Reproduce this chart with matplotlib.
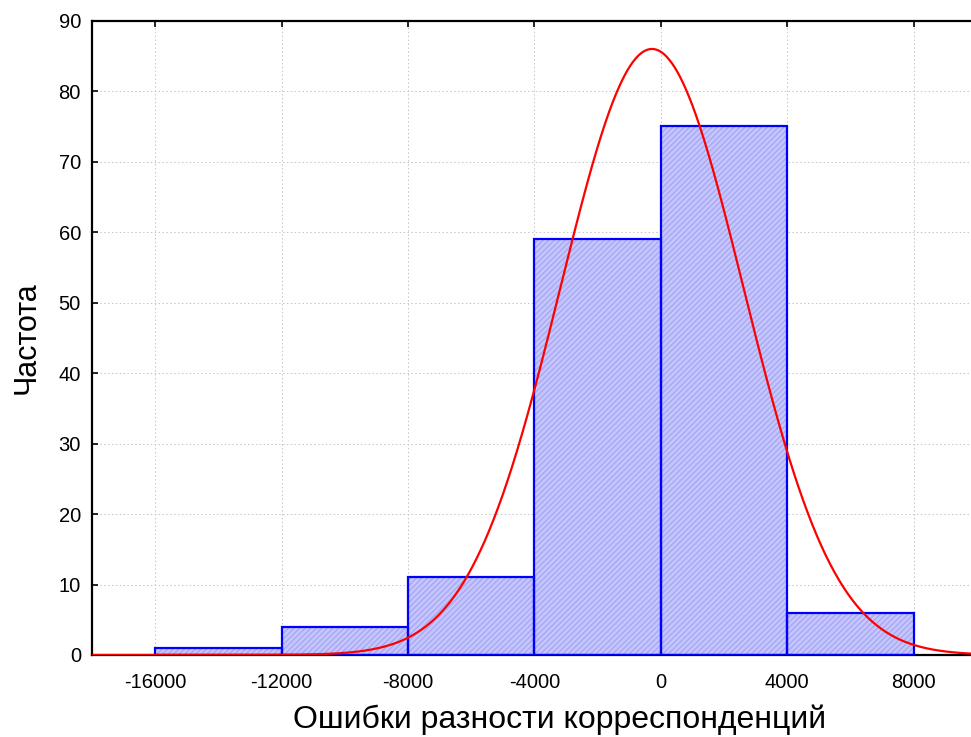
import numpy as np
import matplotlib
matplotlib.use("Agg")
import matplotlib.pyplot as plt

plt.rcParams['font.family'] = ['Liberation Sans', 'DejaVu Sans']

# Data
bin_edges = [-16000, -12000, -8000, -4000, 0, 4000, 8000]
counts = [1, 4, 11, 59, 75, 6]
fit_mean = -280.0
fit_std = 2895.0
x_ticks = [-16000, -12000, -8000, -4000, 0, 4000, 8000]
y_ticks = [0, 10, 20, 30, 40, 50, 60, 70, 80, 90]
x_label = "Ошибки разности корреспонденций"
y_label = "Частота"

fig = plt.figure(figsize=(9.71, 7.37), dpi=100)
ax = fig.add_axes([92/971, 82/737, 884.8/971, 634.3/737])

lefts = np.array(bin_edges[:-1])
widths = np.diff(bin_edges)
total = sum(counts)
bw = widths[0]

ax.set_axisbelow(True)
ax.grid(True, color='#c4c4c4', linestyle=(0, (1.5, 2.5)), linewidth=0.7)

ax.bar(lefts, counts, width=widths, align='edge', facecolor='#c6c6ff',
       edgecolor='#a8a8f2', linewidth=0, hatch='//////', zorder=2)
ax.bar(lefts, counts, width=widths, align='edge', facecolor='none',
       edgecolor='#0000ff', linewidth=1.6, zorder=3)

xs = np.linspace(-18000, 10000, 1000)
ys = total * bw / (fit_std * np.sqrt(2 * np.pi)) * np.exp(-0.5 * ((xs - fit_mean) / fit_std) ** 2)
ax.plot(xs, ys, color='#ff0000', linewidth=1.6, zorder=4)

ax.set_xlim(-18000, 10000)
ax.set_ylim(0, 90)
ax.set_xticks(x_ticks)
ax.set_xticklabels([str(t) for t in x_ticks])
ax.set_yticks(y_ticks)
ax.tick_params(axis='both', direction='in', length=4, width=1.2, labelsize=14.5,
               top=True)
ax.tick_params(axis='x', pad=13)
ax.tick_params(axis='y', pad=8)
for s in ['left', 'top', 'bottom']:
    ax.spines[s].set_linewidth(1.6)
ax.spines['right'].set_visible(False)

ax.set_xlabel(x_label, fontsize=23, labelpad=9)
ax.xaxis.label.set_x(0.529)
ax.set_ylabel(y_label, fontsize=22, labelpad=12)

fig.savefig("out.png", dpi=100)
